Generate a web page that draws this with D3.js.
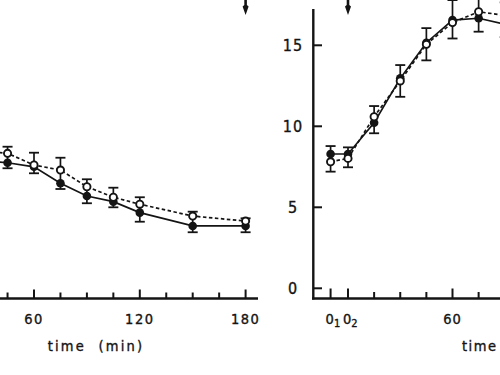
<!DOCTYPE html>
<html>
<head>
<meta charset="utf-8">
<script src="https://cdn.jsdelivr.net/npm/d3@7"></script>
<style>
  body { margin: 0; background: #fff; }
  text { font-family: "DejaVu Sans Condensed", "Liberation Sans Narrow", sans-serif; fill: #141414;
         stroke: #141414; stroke-width: 0.35; }
</style>
</head>
<body>
<div id="chart"></div>
<script>
// left panel (only the right part of it is visible)
var leftTime       = [30, 45, 60, 75, 90, 105, 120, 150, 180];
var leftFilled     = [7.9, 7.75, 7.5, 6.48, 5.7, 5.35, 4.67, 3.85, 3.85];
var leftFilledErr  = [0.35, 0.34, 0.4, 0.35, 0.45, 0.35, 0.56, 0.39, 0.39];
var leftOpen       = [8.5, 8.33, 7.61, 7.3, 6.27, 5.62, 5.19, 4.46, 4.15];
var leftOpenErr    = [0.4, 0.41, 0.76, 0.76, 0.46, 0.59, 0.43, 0.27, 0.17];
var leftMajorTicks = [60, 120, 180];
var leftMinorTicks = [30, 45, 75, 90, 105, 135, 150, 165];

// right panel (only the left part of it is visible)
var rightTime       = [-10, 0, 15, 30, 45, 60, 75, 90];
var rightFilled     = [8.29, 8.29, 10.22, 12.96, 15.16, 16.56, 16.67, 16.3];
var rightFilledErr  = [0.49, 0.41, 0.65, 0.82, 0.9, 1.23, 0.83, 0.8];
var rightOpen       = [7.81, 8.02, 10.59, 12.8, 15.06, 16.4, 17.07, 16.85];
var rightOpenErr    = [0.61, 0.55, 0.66, 0.98, 0.99, 0.98, 0.8, 0.8];
var rightMajorTicks = [-10, 0, 60];
var rightMinorTicks = [15, 30, 45, 75, 90];
var rightTickLabels = {"-10": ["0", "1"], "0": ["0", "2"], "60": ["60"]};
var yTicks = [0, 5, 10, 15];

var width = 500, height = 375;
var axisY = 298.5;
var ink = "#141414";

var svg = d3.select("#chart").append("svg")
            .attr("width", width)
            .attr("height", height);

var y  = d3.scaleLinear().domain([0, 15]).range([288.3, 45.3]);
var xL = d3.scaleLinear().domain([60, 180]).range([34, 245.6]);
var xR = d3.scaleLinear().domain([0, 60]).range([348, 452.5]);

// draws markers, connecting lines and error bars of one panel
function drawPanel(g, x, time, filled, filledErr, open, openErr) {
    var lineF = d3.line().x(function(d, i) { return x(time[i]); }).y(function(d) { return y(d); });

    g.append("path").attr("d", lineF(open))
     .attr("fill", "none").attr("stroke", ink).attr("stroke-width", 1.7)
     .attr("stroke-dasharray", "3.5,2.5");
    g.append("path").attr("d", lineF(filled))
     .attr("fill", "none").attr("stroke", ink).attr("stroke-width", 1.7);

    // error bars: higher series goes up, lower series goes down
    time.forEach(function(t, i) {
        var top, bot;
        if (open[i] >= filled[i]) { top = open[i] + openErr[i]; bot = filled[i] - filledErr[i]; }
        else { top = filled[i] + filledErr[i]; bot = open[i] - openErr[i]; }
        var cx = x(t);
        g.append("line").attr("x1", cx).attr("x2", cx).attr("y1", y(top)).attr("y2", y(bot))
         .attr("stroke", ink).attr("stroke-width", 1.7);
        [top, bot].forEach(function(v) {
            g.append("line").attr("x1", cx - 5).attr("x2", cx + 5).attr("y1", y(v)).attr("y2", y(v))
             .attr("stroke", ink).attr("stroke-width", 1.8);
        });
    });

    g.selectAll(".filled").data(filled).enter().append("circle")
     .attr("class", "filled")
     .attr("cx", function(d, i) { return x(time[i]); })
     .attr("cy", function(d) { return y(d); })
     .attr("r", 4.3).attr("fill", ink);

    g.selectAll(".open").data(open).enter().append("circle")
     .attr("class", "open")
     .attr("cx", function(d, i) { return x(time[i]); })
     .attr("cy", function(d) { return y(d); })
     .attr("r", 3.6).attr("fill", "#fff").attr("stroke", ink).attr("stroke-width", 1.9);
}

function drawTicks(g, x, values, len) {
    g.selectAll(null).data(values).enter().append("line")
     .attr("x1", function(d) { return x(d); }).attr("x2", function(d) { return x(d); })
     .attr("y1", axisY).attr("y2", axisY - len)
     .attr("stroke", ink).attr("stroke-width", 2);
}

function arrow(g, cx) {
    var pts = [[cx - 1.3, 0], [cx + 1.3, 0], [cx + 1.3, 5], [cx + 3, 6.5], [cx, 15], [cx - 3, 6.5], [cx - 1.3, 5]];
    g.append("polygon").attr("points", pts.join(" ")).attr("fill", ink);
}

// ---- left panel
var left = svg.append("g");
left.append("line").attr("x1", 0).attr("x2", 258).attr("y1", axisY).attr("y2", axisY)
    .attr("stroke", ink).attr("stroke-width", 2.4);
drawTicks(left, xL, leftMajorTicks, 9);
drawTicks(left, xL, leftMinorTicks, 6);
left.selectAll(".xlab").data(leftMajorTicks).enter().append("text")
    .attr("x", function(d) { return xL(d); }).attr("y", 323.5)
    .attr("text-anchor", "middle").attr("font-size", 14.5).attr("letter-spacing", 1.5)
    .text(function(d) { return d; });
left.append("text").attr("x", 96).attr("y", 351).attr("text-anchor", "middle")
    .attr("font-size", 14.5).attr("letter-spacing", 2.2).attr("xml:space", "preserve")
    .text("time  (min)");
drawPanel(left, xL, leftTime, leftFilled, leftFilledErr, leftOpen, leftOpenErr);
arrow(left, xL(180));

// ---- right panel
var right = svg.append("g");
right.append("line").attr("x1", 313.3).attr("x2", 313.3).attr("y1", 9).attr("y2", axisY + 1)
     .attr("stroke", ink).attr("stroke-width", 2.4);
right.append("line").attr("x1", 312).attr("x2", 500).attr("y1", axisY).attr("y2", axisY)
     .attr("stroke", ink).attr("stroke-width", 2.4);
right.selectAll(".ytick").data(yTicks).enter().append("line")
     .attr("x1", 313).attr("x2", 322).attr("y1", function(d) { return y(d); }).attr("y2", function(d) { return y(d); })
     .attr("stroke", ink).attr("stroke-width", 2);
right.selectAll(".ylab").data(yTicks).enter().append("text")
     .attr("x", 293).attr("y", function(d) { return y(d) + 6; })
     .attr("text-anchor", "middle").attr("font-size", 16).attr("letter-spacing", 1)
     .text(function(d) { return d; });
drawTicks(right, xR, rightMajorTicks, 10);
drawTicks(right, xR, rightMinorTicks, 6.5);
rightMajorTicks.forEach(function(t) {
    var lab = rightTickLabels[t];
    var txt = right.append("text").attr("y", 323.5).attr("font-size", 14.5);
    if (lab[1]) {
        txt.attr("x", xR(t) - 5).attr("text-anchor", "start");
        txt.append("tspan").text(lab[0]);
        txt.append("tspan").attr("font-size", 11).attr("dy", 3).text(lab[1]);
    } else {
        txt.attr("x", xR(t)).attr("text-anchor", "middle").attr("letter-spacing", 1).text(lab[0]);
    }
});
right.append("text").attr("x", 462).attr("y", 351).attr("font-size", 14.5).attr("letter-spacing", 1.5)
     .text("time");
drawPanel(right, xR, rightTime, rightFilled, rightFilledErr, rightOpen, rightOpenErr);
arrow(right, xR(0));
</script>
</body>
</html>
